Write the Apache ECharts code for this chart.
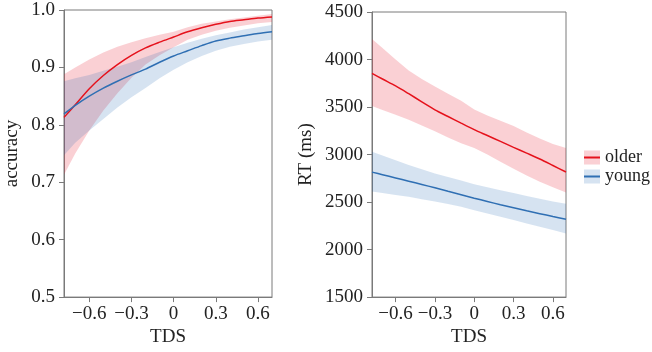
<!DOCTYPE html>
<html>
<head>
<meta charset="utf-8">
<script src="https://cdn.jsdelivr.net/npm/echarts@6/dist/echarts.min.js"></script>
<style>
  html, body { margin: 0; padding: 0; background: #fff; }
  #main { width: 652px; height: 352px; }
</style>
</head>
<body>
<div id="main"></div>
<script>
// TDS values shared by both panels
var tds = [-0.78, -0.7, -0.6, -0.5, -0.4, -0.3, -0.2, -0.1, 0, 0.1, 0.2, 0.3, 0.4, 0.5, 0.6, 0.7];

// accuracy panel
var accOlder    = [0.813, 0.835, 0.863, 0.886, 0.905, 0.921, 0.934, 0.944, 0.953, 0.962, 0.969, 0.975, 0.980, 0.983, 0.986, 0.988];
var accOlderLo  = [0.713, 0.750, 0.790, 0.825, 0.855, 0.882, 0.905, 0.921, 0.935, 0.948, 0.957, 0.964, 0.969, 0.973, 0.977, 0.979];
var accOlderHi  = [0.888, 0.900, 0.914, 0.926, 0.936, 0.944, 0.951, 0.957, 0.962, 0.970, 0.976, 0.980, 0.984, 0.987, 0.990, 0.993];
var accYoung    = [0.819, 0.834, 0.850, 0.864, 0.876, 0.887, 0.897, 0.909, 0.920, 0.929, 0.938, 0.946, 0.951, 0.955, 0.959, 0.962];
var accYoungLo  = [0.747, 0.769, 0.790, 0.810, 0.830, 0.848, 0.864, 0.881, 0.896, 0.909, 0.920, 0.929, 0.936, 0.941, 0.945, 0.948];
var accYoungHi  = [0.876, 0.881, 0.887, 0.894, 0.901, 0.909, 0.918, 0.927, 0.935, 0.943, 0.950, 0.956, 0.961, 0.966, 0.970, 0.974];

// RT panel
var rtOlder     = [3855, 3795, 3722, 3640, 3555, 3470, 3400, 3330, 3262, 3200, 3138, 3076, 3015, 2953, 2885, 2816];
var rtOlderLo   = [3510, 3470, 3420, 3365, 3305, 3245, 3180, 3120, 3070, 3000, 2925, 2850, 2780, 2715, 2655, 2600];
var rtOlderHi   = [4215, 4120, 4000, 3885, 3795, 3715, 3640, 3565, 3475, 3410, 3355, 3300, 3232, 3168, 3110, 3070];
var rtYoung     = [2815, 2788, 2754, 2720, 2685, 2650, 2613, 2577, 2541, 2506, 2472, 2440, 2408, 2378, 2348, 2320];
var rtYoungLo   = [2610, 2595, 2575, 2555, 2530, 2505, 2480, 2450, 2415, 2380, 2345, 2310, 2275, 2240, 2205, 2170];
var rtYoungHi   = [3030, 2990, 2940, 2890, 2845, 2800, 2765, 2728, 2688, 2655, 2625, 2595, 2565, 2535, 2507, 2483];

var xTicks = [-0.6, -0.3, 0, 0.3, 0.6];
var groups = ['older', 'young'];

var font = 'Liberation Serif';
var red = '#e5121c', blue = '#2f6fb3';
var pink = 'rgba(230,40,60,0.22)', lightBlue = 'rgba(30,100,180,0.18)';

function pairs(ys) {
    return tds.map(function (x, i) { return [x, ys[i]]; });
}

// shaded interval drawn as one polygon through the axis scales
function band(name, lo, hi, color, idx) {
    return {
        name: name + ' band', type: 'custom', xAxisIndex: idx, yAxisIndex: idx,
        silent: true, z: 1,
        data: [[tds[0], lo[0]]],
        itemStyle: {color: color},
        renderItem: function (params, api) {
            var pts = [];
            tds.forEach(function (x, i) { pts.push(api.coord([x, lo[i]])); });
            for (var i = tds.length - 1; i >= 0; i--) pts.push(api.coord([tds[i], hi[i]]));
            return {type: 'polygon', shape: {points: pts}, style: {fill: color}};
        }
    };
}
function line(name, ys, color, idx) {
    return {
        name: name, type: 'line', xAxisIndex: idx, yAxisIndex: idx,
        data: pairs(ys), showSymbol: false, smooth: 0.3, z: 5,
        lineStyle: {color: color, width: 1.5}, itemStyle: {color: color}
    };
}

var labelStyle = {fontFamily: font, fontSize: 19, color: '#222'};
var axisLine = {onZero: false, lineStyle: {color: '#7a7a7a', width: 1}};
var axisTick = {length: 5, lineStyle: {color: '#7a7a7a'}};

function xAxis(idx, gap) {
    return {
        type: 'value', gridIndex: idx, min: -0.78, max: 0.7,
        name: 'TDS', nameLocation: 'middle', nameGap: gap, nameTextStyle: labelStyle,
        axisLine: axisLine,
        axisTick: Object.assign({customValues: xTicks}, axisTick),
        axisLabel: Object.assign({
            customValues: xTicks, margin: 7,
            formatter: function (v) { return v < 0 ? '\u2212' + Math.abs(v) : String(v); }
        }, labelStyle),
        splitLine: {show: false}
    };
}

var series = [
    band('older', accOlderLo, accOlderHi, pink, 0),
    band('young', accYoungLo, accYoungHi, lightBlue, 0),
    line('older', accOlder, red, 0),
    line('young', accYoung, blue, 0),
    band('older', rtOlderLo, rtOlderHi, pink, 1),
    band('young', rtYoungLo, rtYoungHi, lightBlue, 1),
    line('older', rtOlder, red, 1),
    line('young', rtYoung, blue, 1)
];

var chart = echarts.init(document.getElementById('main'));
chart.setOption({
    animation: false,
    backgroundColor: '#fff',
    grid: [
        {left: 64, right: 380, top: 10, bottom: 52, show: true, borderColor: '#7a7a7a', borderWidth: 1},
        {left: 372, right: 86, top: 12, bottom: 53, show: true, borderColor: '#7a7a7a', borderWidth: 1}
    ],
    xAxis: [xAxis(0, 24), xAxis(1, 27)],
    yAxis: [{
        type: 'value', gridIndex: 0, min: 0.5, max: 1.0, interval: 0.1,
        name: 'accuracy', nameLocation: 'middle', nameGap: 42, nameTextStyle: labelStyle,
        axisLine: axisLine, axisTick: axisTick,
        axisLabel: Object.assign({margin: 9, formatter: function (v) { return v.toFixed(1); }}, labelStyle),
        splitLine: {show: false}
    }, {
        type: 'value', gridIndex: 1, min: 1500, max: 4500, interval: 500,
        name: 'RT (ms)', nameLocation: 'middle', nameGap: 56, nameTextStyle: labelStyle,
        axisLine: axisLine, axisTick: axisTick,
        axisLabel: Object.assign({margin: 9, formatter: function (v) { return String(v); }}, labelStyle),
        splitLine: {show: false}
    }],
    // two stacked legends: shaded boxes underneath, line swatches + names on top
    legend: [{
        orient: 'vertical', left: 584, top: 148, padding: 0,
        itemWidth: 16, itemHeight: 14, itemGap: 0,
        icon: 'rect', z: 3,
        data: [
            {name: 'older band', itemStyle: {color: pink}},
            {name: 'young band', itemStyle: {color: lightBlue}}
        ],
        formatter: function () { return ' '; },
        textStyle: {fontFamily: font, fontSize: 18, lineHeight: 19}
    }, {
        orient: 'vertical', left: 584, top: 148, padding: 0,
        itemWidth: 16, itemHeight: 2, itemGap: 0,
        icon: 'rect', z: 4,
        data: groups.map(function (g, i) {
            return {name: g, itemStyle: {color: i === 0 ? red : blue}};
        }),
        textStyle: {fontFamily: font, fontSize: 18, lineHeight: 19, color: '#222'}
    }],
    series: series
});
</script>
</body>
</html>
